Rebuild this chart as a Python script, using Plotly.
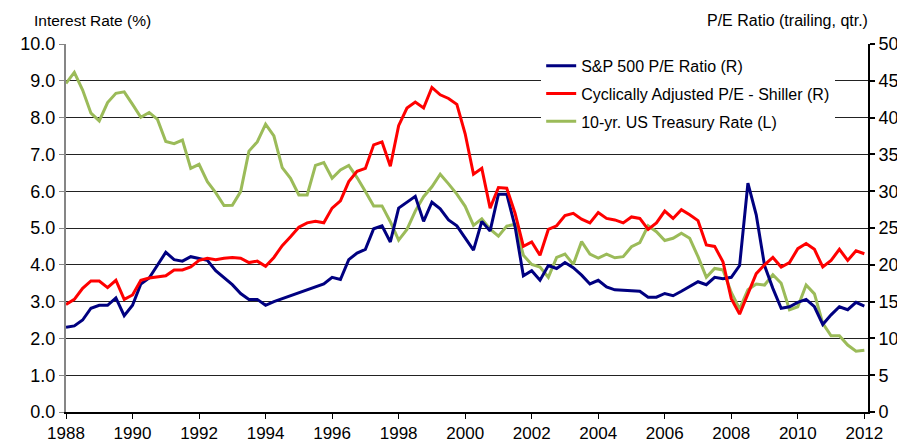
import plotly.graph_objects as go

# Quarterly observations, 1988 Q1 .. 2012 Q1
start_year = 1988
n_quarters = 97
quarters = [start_year + i / 4 for i in range(n_quarters)]

# S&P 500 P/E Ratio (trailing, right axis)
sp500_pe = [
    11.5, 11.7, 12.5, 14.1, 14.5, 14.5, 15.5, 13.1,   # 1988-1989
    14.5, 17.4, 18.2, 19.9, 21.7, 20.7, 20.5, 21.1,   # 1990-1991
    20.9, 20.6, 19.2, 18.2, 17.3, 16.1, 15.3, 15.3,   # 1992-1993
    14.5, 15.0, 15.4, 15.8, 16.2, 16.6, 17.0, 17.4,   # 1994-1995
    18.3, 18.0, 20.7, 21.6, 22.1, 24.9, 25.3, 23.1,   # 1996-1997
    27.7, 28.5, 29.3, 25.9, 28.5, 27.6, 26.1, 25.3,   # 1998-1999
    23.7, 22.0, 25.9, 24.6, 29.6, 29.6, 25.2, 18.5,   # 2000-2001
    19.2, 17.9, 19.9, 19.5, 20.3, 19.6, 18.6, 17.4,   # 2002-2003
    17.9, 17.0, 16.6, 16.5, 16.5, 16.4, 15.6, 15.6,   # 2004-2005
    16.1, 15.8, 16.4, 17.0, 17.7, 17.3, 18.3, 18.1,   # 2006-2007
    18.3, 19.9, 31.1, 26.8, 19.9, 16.8, 14.1, 14.3,   # 2008-2009
    14.9, 15.3, 14.3, 11.9, 13.2, 14.3, 13.9, 14.9,   # 2010-2011
    14.4,                                             # 2012
]

# Cyclically Adjusted P/E - Shiller (right axis)
shiller_cape = [
    14.6, 15.3, 16.8, 17.8, 17.8, 16.9, 17.9, 15.3,
    15.9, 17.9, 18.2, 18.4, 18.5, 19.3, 19.3, 19.7,
    20.6, 20.9, 20.7, 20.9, 21.0, 20.9, 20.3, 20.5,
    19.8, 21.0, 22.6, 23.8, 25.1, 25.7, 25.9, 25.7,
    27.7, 28.7, 31.3, 32.7, 33.1, 36.3, 36.7, 33.4,
    38.9, 41.3, 42.1, 41.3, 44.1, 43.1, 42.6, 41.8,
    37.8, 32.3, 33.1, 27.7, 30.5, 30.4, 27.0, 22.5,
    23.1, 21.3, 24.8, 25.3, 26.7, 27.0, 26.2, 25.7,
    27.1, 26.3, 26.1, 25.7, 26.5, 26.3, 24.8, 25.7,
    27.3, 26.3, 27.5, 26.8, 26.0, 22.7, 22.5, 20.4,
    15.4, 13.3, 16.0, 18.8, 20.0, 21.0, 19.7, 20.3,
    22.2, 22.9, 22.1, 19.7, 20.6, 22.1, 20.6, 21.9,
    21.5,
]

# 10-yr. US Treasury Rate, % (left axis)
treasury_10y = [
    8.93, 9.23, 8.75, 8.12, 7.91, 8.41, 8.66, 8.70,
    8.36, 8.01, 8.14, 7.95, 7.35, 7.29, 7.39, 6.62,
    6.73, 6.26, 5.96, 5.61, 5.62, 5.99, 7.09, 7.34,
    7.82, 7.50, 6.64, 6.35, 5.90, 5.90, 6.70, 6.78,
    6.35, 6.58, 6.70, 6.37, 5.99, 5.60, 5.60, 5.17,
    4.67, 4.96, 5.46, 5.85, 6.12, 6.46, 6.20, 5.92,
    5.59, 5.07, 5.25, 4.97, 4.78, 5.05, 5.10, 4.26,
    4.01, 3.94, 3.66, 4.20, 4.29, 4.01, 4.63, 4.29,
    4.18, 4.29, 4.19, 4.22, 4.49, 4.60, 5.06, 4.90,
    4.66, 4.72, 4.86, 4.72, 4.22, 3.66, 3.90, 3.86,
    3.25, 2.80, 3.32, 3.48, 3.45, 3.73, 3.50, 2.78,
    2.86, 3.45, 3.21, 2.41, 2.07, 2.07, 1.82, 1.65,
    1.68,
]

year_ticks = list(range(1988, 2013, 2))
year_labels = [str(y) for y in year_ticks]
left_ticks = [i * 1.0 for i in range(11)]
right_ticks = list(range(0, 51, 5))

FONT = "Arial, 'Liberation Sans', sans-serif"

fig = go.Figure()
fig.add_trace(go.Scatter(
    x=quarters, y=treasury_10y, mode="lines", name="10-yr. US Treasury Rate (L)",
    line=dict(color="#9BBB59", width=3), yaxis="y",
    legendgroup="c", legendrank=3,
))
fig.add_trace(go.Scatter(
    x=quarters, y=sp500_pe, mode="lines", name="S&P 500 P/E Ratio (R)",
    line=dict(color="#000080", width=3), yaxis="y2",
    legendgroup="a", legendrank=1,
))
fig.add_trace(go.Scatter(
    x=quarters, y=shiller_cape, mode="lines", name="Cyclically Adjusted P/E - Shiller (R)",
    line=dict(color="#FF0000", width=3), yaxis="y2",
    legendgroup="b", legendrank=2,
))

# The page adds an 8px body margin, so the figure is sized to sit inside the window.
fig.update_layout(
    width=897, height=434,
    margin=dict(l=58, r=37, t=36, b=30, autoexpand=False),
    paper_bgcolor="white", plot_bgcolor="white",
    font=dict(family=FONT, color="black", size=15),
    showlegend=True,
    legend=dict(
        x=0.5925, y=0.987, xanchor="left", yanchor="top",
        bgcolor="white", borderwidth=0,
        font=dict(family=FONT, size=16, color="black"),
        traceorder="grouped", tracegroupgap=4,
    ),
    xaxis=dict(
        range=[1988, 2012.11], tickvals=year_ticks, ticktext=year_labels,
        showgrid=False, zeroline=False, automargin=False,
        showline=True, linecolor="black", linewidth=2,
        ticks="outside", ticklen=5, tickwidth=1, tickcolor="black",
        tickfont=dict(family=FONT, size=17, color="black"),
    ),
    yaxis=dict(
        range=[0, 10], tickvals=left_ticks, tickformat=".1f", automargin=False,
        showgrid=True, gridcolor="#222222", gridwidth=1.4,
        zeroline=False, showline=True, linecolor="#868686", linewidth=2,
        ticks="outside", ticklen=5, tickwidth=1, tickcolor="#868686",
        tickfont=dict(family=FONT, size=18, color="black"),
    ),
    yaxis2=dict(
        range=[0, 50], tickvals=right_ticks, overlaying="y", side="right",
        automargin=False,
        showgrid=False, zeroline=False, showline=True, linecolor="black", linewidth=2,
        ticks="outside", ticklen=5, tickwidth=1.5, tickcolor="black",
        tickfont=dict(family=FONT, size=18, color="black"),
    ),
    annotations=[
        dict(text="Interest Rate (%)", xref="paper", yref="paper",
             x=-0.042, y=1.065, xanchor="left", yanchor="middle", showarrow=False,
             font=dict(family=FONT, size=15.5, color="black")),
        dict(text="P/E Ratio (trailing, qtr.)", xref="paper", yref="paper",
             x=1.002, y=1.065, xanchor="right", yanchor="middle", showarrow=False,
             font=dict(family=FONT, size=16, color="black")),
    ],
)

fig.write_html("out.html")
